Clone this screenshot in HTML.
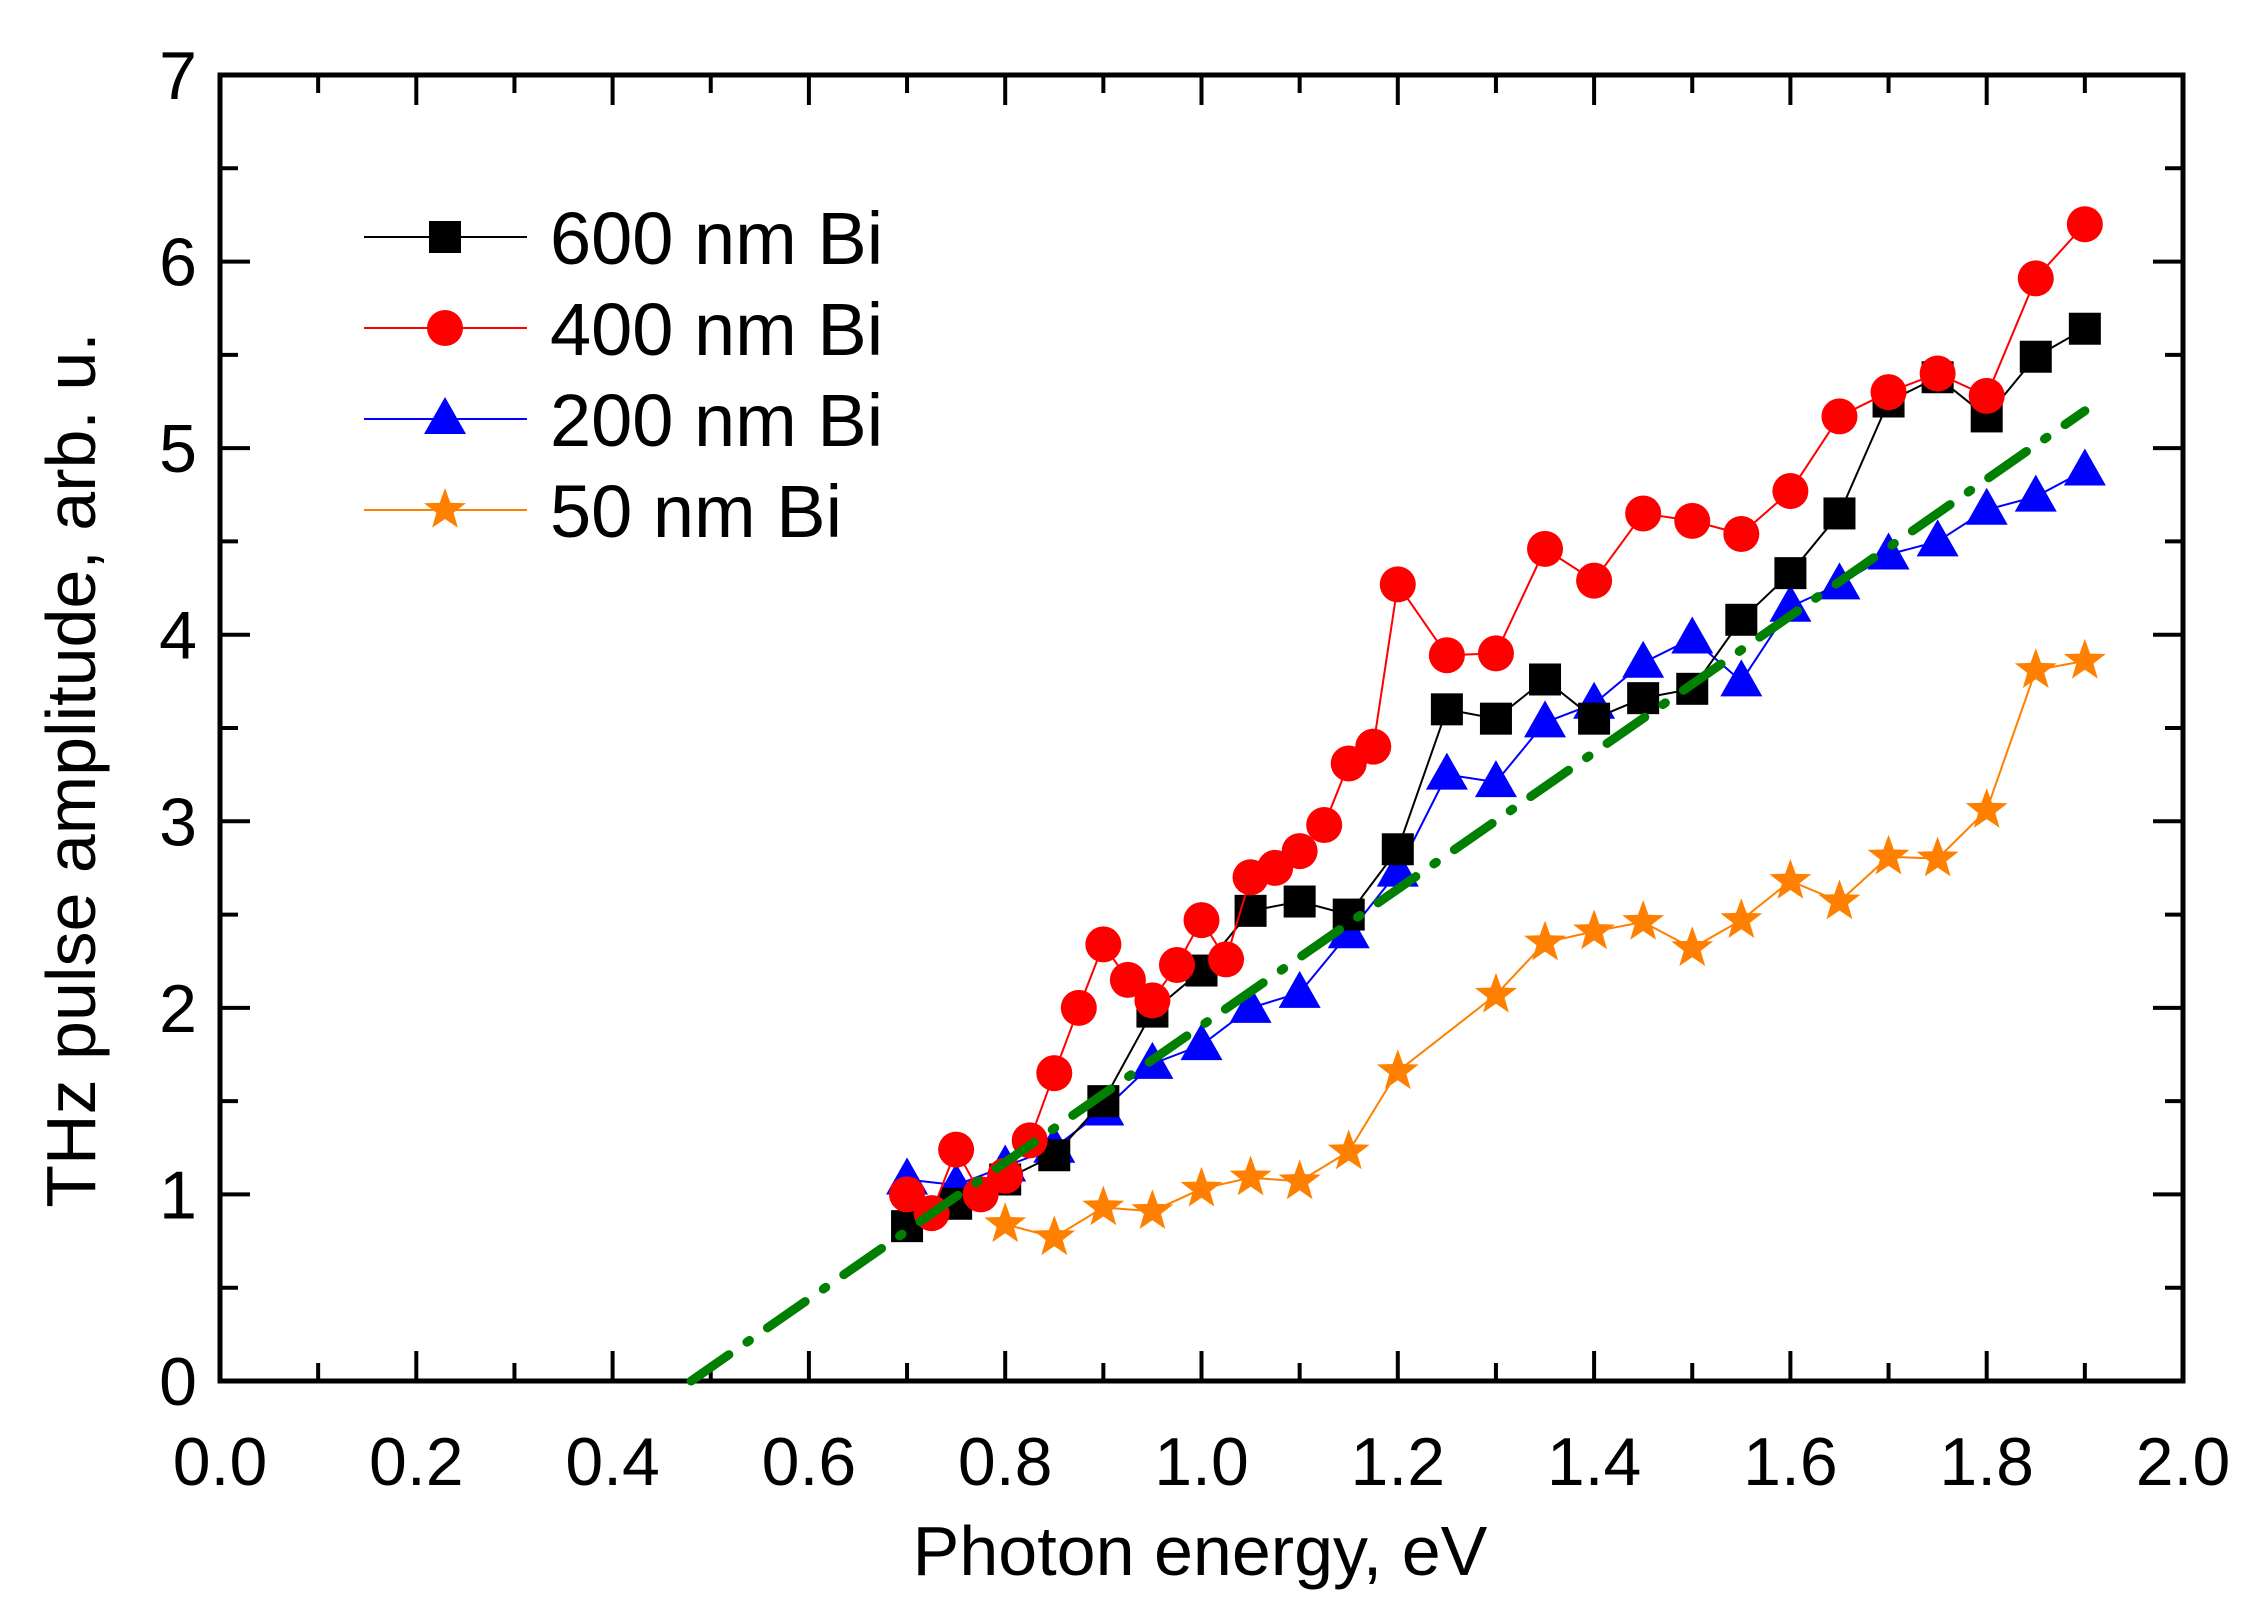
<!DOCTYPE html>
<html><head><meta charset="utf-8"><style>
html,body{margin:0;padding:0;background:#fff;}
svg{display:block;font-family:"Liberation Sans",sans-serif;}
</style></head><body>
<svg id="chart" width="2260" height="1608" viewBox="0 0 2260 1608" xmlns="http://www.w3.org/2000/svg">
<g id="plot"></g>
</svg>
<script>
const xTicks=[0.0,0.2,0.4,0.6,0.8,1.0,1.2,1.4,1.6,1.8,2.0];
const xTickLabels=["0.0","0.2","0.4","0.6","0.8","1.0","1.2","1.4","1.6","1.8","2.0"];
const yTicks=[0,1,2,3,4,5,6,7];
const yTickLabels=["0","1","2","3","4","5","6","7"];
const x600=[0.70,0.75,0.80,0.85,0.90,0.95,1.00,1.05,1.10,1.15,1.20,1.25,1.30,1.35,1.40,1.45,1.50,1.55,1.60,1.65,1.70,1.75,1.80,1.85,1.90];
const y600=[0.83,0.95,1.08,1.21,1.50,1.98,2.20,2.52,2.57,2.50,2.85,3.60,3.55,3.76,3.55,3.66,3.71,4.08,4.33,4.65,5.25,5.38,5.17,5.49,5.64];
const x400=[0.70,0.725,0.75,0.775,0.80,0.825,0.85,0.875,0.90,0.925,0.95,0.975,1.00,1.025,1.05,1.075,1.10,1.125,1.15,1.175,1.20,1.25,1.30,1.35,1.40,1.45,1.50,1.55,1.60,1.65,1.70,1.75,1.80,1.85,1.90];
const y400=[1.00,0.90,1.24,1.00,1.10,1.29,1.65,2.00,2.34,2.15,2.04,2.23,2.47,2.26,2.70,2.75,2.84,2.98,3.31,3.40,4.27,3.89,3.90,4.46,4.29,4.65,4.61,4.54,4.77,5.17,5.30,5.40,5.28,5.91,6.20];
const x200=[0.70,0.75,0.80,0.85,0.90,0.95,1.00,1.05,1.10,1.15,1.20,1.25,1.30,1.35,1.40,1.45,1.50,1.55,1.60,1.65,1.70,1.75,1.80,1.85,1.90];
const y200=[1.08,1.05,1.15,1.25,1.45,1.70,1.80,2.00,2.08,2.40,2.73,3.25,3.21,3.53,3.63,3.85,3.98,3.75,4.15,4.27,4.43,4.50,4.67,4.74,4.88];
const x50=[0.80,0.85,0.90,0.95,1.00,1.05,1.10,1.15,1.20,1.30,1.35,1.40,1.45,1.50,1.55,1.60,1.65,1.70,1.75,1.80,1.85,1.90];
const y50=[0.84,0.77,0.93,0.91,1.03,1.09,1.07,1.23,1.66,2.07,2.35,2.41,2.46,2.32,2.47,2.68,2.57,2.81,2.80,3.06,3.81,3.86];
const fitX=[0.48,1.90];
const fitY=[0.0,5.2];

const L=220,R=2183,T=75,B=1381;
const sx=v=>L+(v-0)/(2.0-0)*(R-L);
const sy=v=>B-(v-0)/(7-0)*(B-T);
const NS="http://www.w3.org/2000/svg";
const g=document.getElementById('plot');
function mk(tag,attrs,parent){const e=document.createElementNS(NS,tag);for(const k in attrs)e.setAttribute(k,attrs[k]);(parent||g).appendChild(e);return e;}

for(let i=0;i<20;i++){
  const v=i*0.1, major=i%2===0, len=major?30:18;
  const t1=mk('line',{x1:sx(v),x2:sx(v),y1:B,y2:B-len,stroke:'#000','stroke-width':4});
  
  
  const t2=mk('line',{x1:sx(v),x2:sx(v),y1:T,y2:T+len,stroke:'#000','stroke-width':4});
  
  
}
for(let i=0;i<14;i++){
  const v=i*0.5, major=i%2===0, len=major?30:18;
  const t1=mk('line',{x1:L,x2:L+len,y1:sy(v),y2:sy(v),stroke:'#000','stroke-width':4});
  
  
  const t2=mk('line',{x1:R,x2:R-len,y1:sy(v),y2:sy(v),stroke:'#000','stroke-width':4});
  
  
}
const frame=mk('rect',{x:L,y:T,width:R-L,height:B-T,fill:'none',stroke:'#000','stroke-width':5});



xTicks.forEach((v,i)=>{
  const t=mk('text',{x:sx(v),y:B+104,'font-size':68,'text-anchor':'middle',fill:'#000'});
  t.textContent=xTickLabels[i];
  
  
});
yTicks.forEach((v,i)=>{
  const t=mk('text',{x:L-23,y:sy(v)+24,'font-size':68,'text-anchor':'end',fill:'#000'});
  t.textContent=yTickLabels[i];
  
  
});
const xt=mk('text',{x:1200,y:1575,'font-size':70,'text-anchor':'middle',fill:'#000'});
xt.textContent='Photon energy, eV';


const yt=mk('text',{x:0,y:0,'font-size':70,'text-anchor':'middle',fill:'#000',transform:'translate(95,770) rotate(-90)'});
yt.textContent='THz pulse amplitude, arb. u.';



function marker(type,cx,cy,color,parent){
  let e;
  if(type==='square'){e=mk('rect',{x:cx-16,y:cy-16,width:32,height:32,fill:color},parent);}
  else if(type==='circle'){e=mk('circle',{cx:cx,cy:cy,r:18,fill:color},parent);}
  else if(type==='triangle'){e=mk('polygon',{points:`${cx},${cy-22} ${cx-21},${cy+15} ${cx+21},${cy+15}`,fill:color},parent);}
  else {let p=[];for(let k=0;k<10;k++){const r=k%2?9:22,a=-Math.PI/2+k*Math.PI/5;p.push((cx+r*Math.cos(a)).toFixed(1)+','+(cy+r*Math.sin(a)).toFixed(1));}
    e=mk('polygon',{points:p.join(' '),fill:color},parent);}
  return e;
}
function series(xs,ys,color,type,name){
  const sg=mk('g',{});
  
  
  const pl=mk('polyline',{points:xs.map((x,i)=>sx(x)+','+sy(ys[i])).join(' '),fill:'none',stroke:color,'stroke-width':2},sg);
  
  
  xs.forEach((x,i)=>{
    const m=marker(type,sx(x),sy(ys[i]),color,sg);
    
    
  });
}
series(x50,y50,'#ff8000','star','series-50nm');
series(x200,y200,'#0000ff','triangle','series-200nm');
series(x600,y600,'#000000','square','series-600nm');
series(x400,y400,'#ff0000','circle','series-400nm');
const fit=mk('line',{x1:sx(fitX[0]),y1:sy(fitY[0]),x2:sx(fitX[1]),y2:sy(fitY[1]),stroke:'#007f00','stroke-width':9,'stroke-linecap':'round','stroke-dasharray':'46 22 3 22'});



const legend=[["600 nm Bi",'#000000','square',237],["400 nm Bi",'#ff0000','circle',328],["200 nm Bi",'#0000ff','triangle',419],["50 nm Bi",'#ff8000','star',510]];
const lg=mk('g',{});


legend.forEach(([lab,c,type,y])=>{
  const e=mk('g',{},lg);
  
  
  mk('line',{x1:364,x2:527,y1:y,y2:y,stroke:c,'stroke-width':2},e);
  marker(type,445,y,c,e);
  const t=mk('text',{x:550,y:y+27,'font-size':74,fill:'#000'},e);
  t.textContent=lab;
});
</script>
</body></html>
